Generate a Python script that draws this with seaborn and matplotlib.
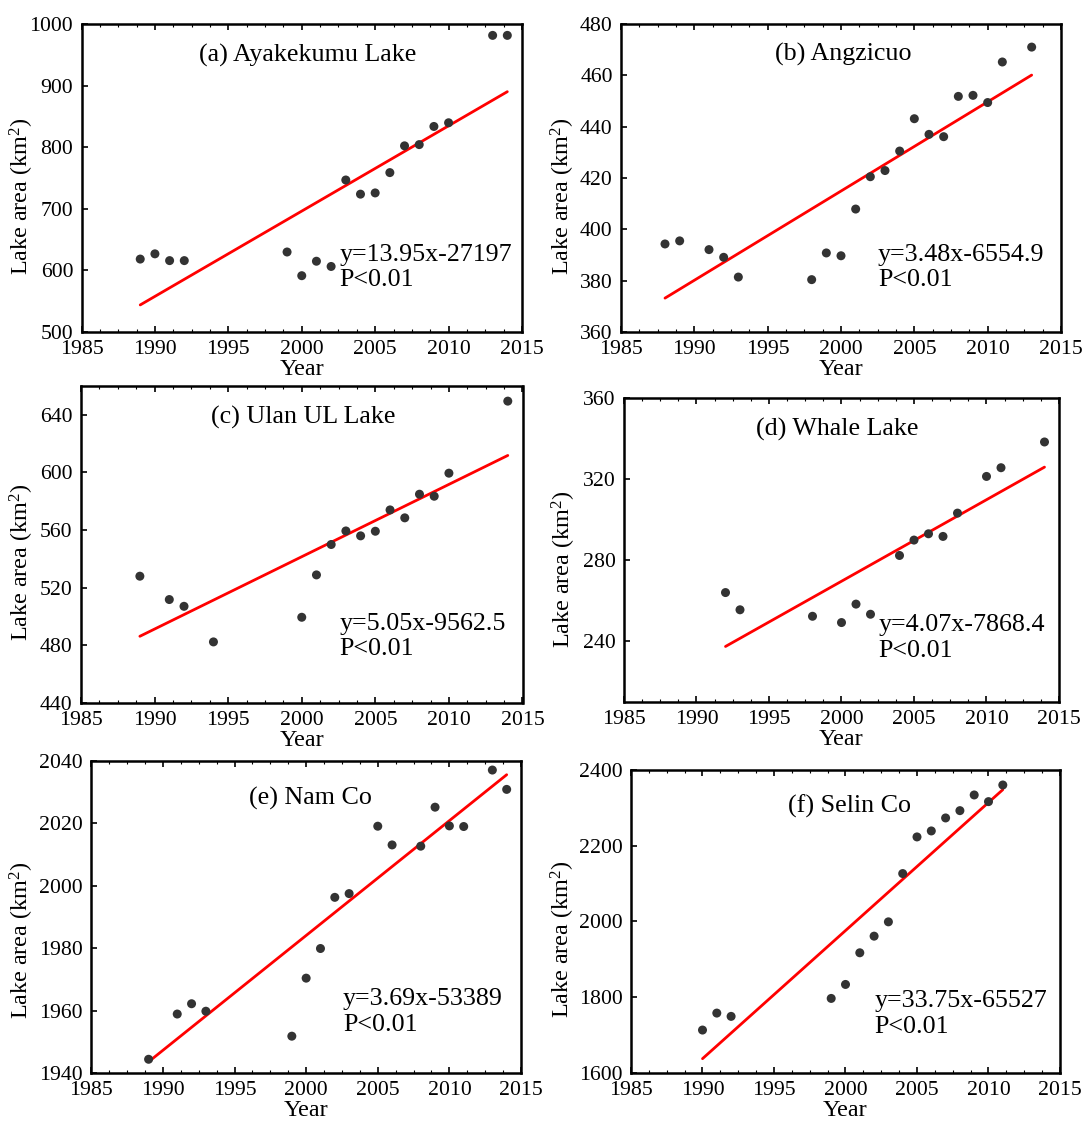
import numpy as np
import pandas as pd
import matplotlib
matplotlib.use("Agg")
import matplotlib.pyplot as plt
from matplotlib.ticker import MultipleLocator
import seaborn as sns

# ---------------- data ----------------
years_a = [1989, 1990, 1991, 1992, 1999, 2000, 2001, 2002, 2003, 2004, 2005, 2006, 2007, 2008, 2009, 2010, 2013, 2014]
area_a = [618.5, 627, 616, 616, 630, 591.5, 615, 606.5, 747, 724, 726, 759, 802.5, 804.5, 834, 840, 982, 982]
trend_a = [544, 890.5]

years_b = [1988, 1989, 1991, 1992, 1993, 1998, 1999, 2000, 2001, 2002, 2003, 2004, 2005, 2006, 2007, 2008, 2009, 2010, 2011, 2013]
area_b = [394.3, 395.5, 392.1, 389.1, 381.4, 380.4, 390.8, 389.7, 407.9, 420.5, 422.9, 430.5, 443.1, 437, 436.1, 451.8, 452.2, 449.4, 465.2, 471]
trend_b = [373.2, 460.1]

years_c = [1989, 1991, 1992, 1994, 2000, 2001, 2002, 2003, 2004, 2005, 2006, 2007, 2008, 2009, 2010, 2014]
area_c = [528, 511.8, 507.1, 482.4, 499.5, 528.9, 550, 559.4, 556, 559.2, 574, 568.5, 584.9, 583.5, 599.5, 649.5]
trend_c = [486.3, 611.8]

years_d = [1992, 1993, 1998, 2000, 2001, 2002, 2004, 2005, 2006, 2007, 2008, 2010, 2011, 2014]
area_d = [264, 255.5, 252.3, 249.2, 258.3, 253.3, 282.3, 289.9, 293, 291.7, 303.2, 321.3, 325.6, 338.3]
trend_d = [237.4, 325.9]

years_e = [1989, 1991, 1992, 1993, 1999, 2000, 2001, 2002, 2003, 2005, 2006, 2008, 2009, 2010, 2011, 2013, 2014]
area_e = [1944.4, 1958.9, 1962.2, 1959.8, 1951.8, 1970.4, 1979.9, 1996.3, 1997.5, 2019.1, 2013.1, 2012.7, 2025.2, 2019.2, 2019, 2037.1, 2030.9]
trend_e = [1943.6, 2035.6]

years_f = [1990, 1991, 1992, 1999, 2000, 2001, 2002, 2003, 2004, 2005, 2006, 2007, 2008, 2009, 2010, 2011]
area_f = [1713.4, 1758.2, 1749.5, 1796.9, 1833.8, 1917.4, 1961.3, 1999.1, 2126.6, 2223.3, 2239.1, 2273.4, 2292.7, 2334.1, 2316.5, 2360.4]
trend_f = [1637.8, 2348.1]

titles = ["(a) Ayakekumu Lake", "(b) Angzicuo", "(c) Ulan UL Lake",
          "(d) Whale Lake", "(e) Nam Co", "(f) Selin Co"]
equations = ["y=13.95x-27197", "y=3.48x-6554.9", "y=5.05x-9562.5",
             "y=4.07x-7868.4", "y=3.69x-53389", "y=33.75x-65527"]
p_text = "P<0.01"
y_ticks = [
    [500, 600, 700, 800, 900, 1000],
    [360, 380, 400, 420, 440, 460, 480],
    [440, 480, 520, 560, 600, 640],
    [240, 280, 320, 360],
    [1940, 1960, 1980, 2000, 2020, 2040],
    [1600, 1800, 2000, 2200, 2400],
]
y_limits = [(500, 1000), (360, 480), (440, 660), (210, 360), (1940, 2040), (1600, 2400)]
x_ticks = [1985, 1990, 1995, 2000, 2005, 2010, 2015]

all_years = [years_a, years_b, years_c, years_d, years_e, years_f]
all_areas = [area_a, area_b, area_c, area_d, area_e, area_f]
all_trends = [trend_a, trend_b, trend_c, trend_d, trend_e, trend_f]

# ---------------- style ----------------
sns.set_style("white")
plt.rcParams["font.family"] = ["Liberation Serif", "DejaVu Serif"]
plt.rcParams["mathtext.fontset"] = "custom"
plt.rcParams["mathtext.rm"] = "Liberation Serif"
plt.rcParams["mathtext.it"] = "Liberation Serif:italic"
plt.rcParams["mathtext.bf"] = "Liberation Serif:bold"
plt.rcParams["text.color"] = "black"
plt.rcParams["axes.labelcolor"] = "black"
plt.rcParams["xtick.color"] = "black"
plt.rcParams["ytick.color"] = "black"

W, H = 1087, 1127
fig = plt.figure(figsize=(W / 100, H / 100), dpi=100)

# pixel boxes: left, right, top, bottom
boxes = [
    (81.5, 522, 24.3, 332),
    (621, 1061, 24, 332),
    (81, 522.5, 386, 703),
    (624, 1059, 398, 702),
    (91.3, 521, 761, 1073),
    (631, 1060, 770, 1073),
]
title_pos = [(0.513, 0.90), (0.506, 0.90), (0.503, 0.90), (0.491, 0.895), (0.509, 0.88), (0.51, 0.88)]
eq_pos = [(0.586, 0.21), (0.584, 0.21), (0.586, 0.21), (0.585, 0.21), (0.586, 0.195), (0.567, 0.195)]
ylab_pos = [(-0.103, 0.44), (-0.10, 0.44), (-0.103, 0.445), (-0.106, 0.436), (-0.129, 0.426), (-0.126, 0.44)]

for i in range(6):
    l, r, t, b = boxes[i]
    ax = fig.add_axes([l / W, 1 - b / H, (r - l) / W, (b - t) / H])
    df = pd.DataFrame({"Year": all_years[i], "Area": all_areas[i]})
    sns.scatterplot(data=df, x="Year", y="Area", ax=ax, s=42, color="#333333",
                    edgecolor="none", zorder=3)
    tr = pd.DataFrame({"Year": [all_years[i][0], all_years[i][-1]], "Fit": all_trends[i]})
    sns.lineplot(data=tr, x="Year", y="Fit", ax=ax, color="#ff0000", linewidth=2.0, zorder=2)

    ax.set_xlim(1985, 2015)
    ax.set_ylim(*y_limits[i])
    ax.set_xticks(x_ticks)
    ax.set_yticks(y_ticks[i])
    ax.xaxis.set_minor_locator(MultipleLocator(1.25))
    ax.tick_params(axis="x", which="major", direction="in", length=4, width=1.2,
                   top=True, bottom=True, labelsize=15.7, pad=6, colors="black")
    ax.tick_params(axis="x", which="minor", direction="in", length=2.5, width=0.8,
                   top=True, bottom=True)
    ax.tick_params(axis="y", which="major", direction="in", length=4, width=1.2,
                   left=True, right=False, labelsize=15.7, pad=6, colors="black")
    for sp in ax.spines.values():
        sp.set_visible(True)
        sp.set_linewidth(1.8)
        sp.set_color("black")

    ax.set_xlabel("Year", fontsize=17.4, labelpad=0)
    ax.set_ylabel("Lake area (km$^{2}$)", fontsize=17.4)
    ax.yaxis.set_label_coords(*ylab_pos[i])

    ax.text(title_pos[i][0], title_pos[i][1], titles[i], transform=ax.transAxes,
            ha="center", va="center", fontsize=18.7)
    ax.text(eq_pos[i][0], eq_pos[i][1], equations[i] + "\n" + p_text,
            transform=ax.transAxes, ha="left", va="center", fontsize=18.7,
            linespacing=1.2)

fig.savefig("out.png", dpi=100)
